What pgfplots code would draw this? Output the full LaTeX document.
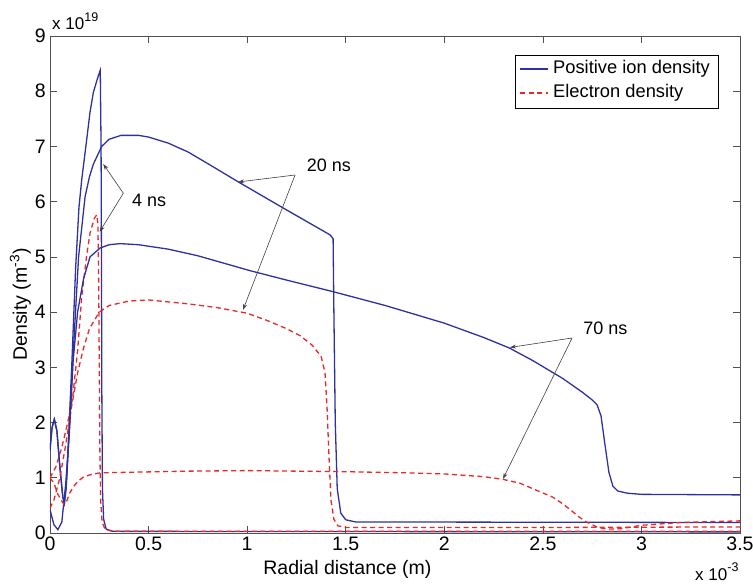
\documentclass[border=0pt]{standalone}
\usepackage{fontspec}
\setmainfont{Liberation Sans}
\usepackage{pgfplots}
\pgfplotsset{compat=1.18}
\usetikzlibrary{arrows.meta}
\definecolor{ionblue}{RGB}{45,50,160}
\definecolor{elred}{RGB}{230,40,40}
\definecolor{axgray}{RGB}{80,80,80}
\newcommand{\myTickFont}{\fontsize{19.5bp}{22bp}\selectfont}
\newcommand{\myLegFont}{\fontsize{18.3bp}{21bp}\selectfont}
\newcommand{\myAnnFont}{\fontsize{18bp}{21bp}\selectfont}
\begin{document}
\begin{tikzpicture}
\begin{axis}[at={(0,0)},anchor=south west,
 scale only axis, width=690bp, height=497bp,
 xmin=0,xmax=3.5,ymin=0,ymax=9,
 xtick={0,0.5,1,1.5,2,2.5,3,3.5}, ytick={0,1,2,3,4,5,6,7,8,9},
 xticklabels={0,0.5,1,1.5,2,2.5,3,3.5},
 tick align=inside, major tick length=7bp,
 axis line style={axgray, line width=0.6bp}, tick style={axgray, line width=0.6bp},
 /pgf/number format/assume math mode=true,
 tick label style={font=\myTickFont, text=black},
 xticklabel style={inner sep=4bp},
 yticklabel style={inner sep=4bp},
 xlabel={Radial distance (m)},
 ylabel={Density (m\textsuperscript{-3})},
 xlabel style={font=\myTickFont, at={(axis description cs:0.431,0)}, anchor=base, yshift=-41bp},
 ylabel style={font=\myTickFont, at={(axis description cs:-0.043,0.46)}, anchor=center},
 every axis plot/.append style={line width=1.3bp},
 clip=true,
]
% 4 ns ion
\addplot[color=ionblue] coordinates {(0,1.5) (0.01,1.9) (0.022,2.06) (0.035,1.85) (0.05,1.2) (0.065,0.65) (0.073,0.54) (0.082,0.8) (0.095,1.8) (0.11,3.0) (0.13,4.8) (0.147,5.9) (0.161,6.4) (0.186,7.12) (0.203,7.62) (0.22,7.98) (0.24,8.22) (0.255,8.38) (0.259,7.0) (0.261,5.0) (0.263,2.5) (0.266,0.8) (0.272,0.25) (0.285,0.07) (0.32,0.03) (3.5,0.02)};
% 4 ns electron
\addplot[color=elred, dash pattern=on 5bp off 3.5bp] coordinates {(0,1.0) (0.03,1.2) (0.06,1.55) (0.09,2.0) (0.115,2.45) (0.14,3.3) (0.161,4.28) (0.185,5.0) (0.203,5.43) (0.225,5.7) (0.237,5.76) (0.243,5.6) (0.247,4.5) (0.25,3.0) (0.253,1.5) (0.257,0.6) (0.264,0.2) (0.28,0.06) (0.32,0.03) (3.5,0.03)};
% 20 ns ion
\addplot[color=ionblue] coordinates {(0,1.5) (0.01,1.9) (0.022,2.06) (0.035,1.85) (0.05,1.2) (0.065,0.65) (0.073,0.54) (0.085,1.0) (0.1,2.0) (0.12,3.4) (0.145,5.0) (0.178,6.09) (0.2,6.45) (0.22,6.68) (0.262,7.0) (0.3,7.13) (0.36,7.2) (0.45,7.2) (0.5,7.17) (0.6,7.06) (0.7,6.9) (0.8,6.69) (0.954,6.36) (1.2,5.85) (1.42,5.4) (1.436,5.33) (1.44,4.0) (1.447,2.0) (1.457,0.8) (1.475,0.36) (1.5,0.24) (1.55,0.2) (3.5,0.19)};
% 20 ns electron
\addplot[color=elred, dash pattern=on 5bp off 3.5bp] coordinates {(0,0.45) (0.02,0.6) (0.05,1.0) (0.08,1.6) (0.11,2.3) (0.14,2.9) (0.17,3.35) (0.2,3.7) (0.25,4.0) (0.3,4.12) (0.4,4.2) (0.5,4.22) (0.7,4.15) (0.85,4.08) (1.0,3.98) (1.1,3.85) (1.2,3.7) (1.27,3.57) (1.33,3.4) (1.375,3.2) (1.395,2.9) (1.405,2.3) (1.415,1.4) (1.425,0.6) (1.44,0.25) (1.46,0.13) (1.5,0.1) (2.5,0.1) (3.5,0.11)};
% 70 ns ion
\addplot[color=ionblue] coordinates {(0,0.42) (0.02,0.15) (0.04,0.06) (0.06,0.2) (0.08,0.9) (0.098,1.8) (0.117,3.1) (0.14,4.0) (0.17,4.6) (0.203,5.0) (0.254,5.16) (0.3,5.22) (0.355,5.24) (0.45,5.22) (0.6,5.14) (0.75,5.02) (1.015,4.75) (1.2,4.58) (1.436,4.37) (1.7,4.12) (2.0,3.8) (2.2,3.54) (2.33,3.35) (2.45,3.12) (2.6,2.8) (2.7,2.55) (2.75,2.41) (2.775,2.32) (2.795,2.12) (2.815,1.6) (2.835,1.1) (2.855,0.85) (2.88,0.76) (2.93,0.72) (3.0,0.70) (3.5,0.69)};
% 70 ns electron
\addplot[color=elred, dash pattern=on 5bp off 3.5bp] coordinates {(0,1.0) (0.02,0.9) (0.04,0.7) (0.07,0.52) (0.085,0.58) (0.1,0.72) (0.117,0.83) (0.14,0.93) (0.168,1.01) (0.2,1.05) (0.254,1.09) (0.4,1.1) (0.7,1.12) (1.0,1.13) (1.5,1.11) (1.8,1.09) (2.0,1.07) (2.2,1.02) (2.3,0.97) (2.385,0.9) (2.49,0.74) (2.55,0.65) (2.6,0.53) (2.64,0.42) (2.68,0.3) (2.72,0.2) (2.78,0.1) (2.83,0.07) (2.9,0.08) (3.0,0.14) (3.2,0.19) (3.5,0.22)};
% annotations
\draw[black!75, line width=0.6bp, -{Stealth[length=6bp,width=4bp]}] (axis cs:0.372,6.152) -- (axis cs:0.270,6.682);
\draw[black!75, line width=0.6bp, -{Stealth[length=6bp,width=4bp]}] (axis cs:0.372,6.152) -- (axis cs:0.252,5.456);
\node[anchor=west, font=\myAnnFont, inner sep=0pt] at (axis cs:0.416,6.03) {4 ns};
\draw[black!75, line width=0.6bp, -{Stealth[length=6bp,width=4bp]}] (axis cs:1.243,6.483) -- (axis cs:0.954,6.356);
\draw[black!75, line width=0.6bp, -{Stealth[length=6bp,width=4bp]}] (axis cs:1.243,6.483) -- (axis cs:0.979,4.04);
\node[anchor=west, font=\myAnnFont, inner sep=0pt] at (axis cs:1.302,6.664) {20 ns};
\draw[black!75, line width=0.6bp, -{Stealth[length=6bp,width=4bp]}] (axis cs:2.648,3.531) -- (axis cs:2.333,3.36);
\draw[black!75, line width=0.6bp, -{Stealth[length=6bp,width=4bp]}] (axis cs:2.648,3.531) -- (axis cs:2.298,0.98);
\node[anchor=west, font=\myAnnFont, inner sep=0pt] at (axis cs:2.704,3.712) {70 ns};
% legend
\draw[black, line width=0.6bp, fill=white] (axis description cs:0.6739,0.8551) rectangle (axis description cs:0.9681,0.9618);
\draw[ionblue, line width=1.3bp] (axis description cs:0.6812,0.9336) -- (axis description cs:0.7217,0.9336);
\draw[elred, line width=1.3bp, dash pattern=on 5bp off 3.5bp] (axis description cs:0.6812,0.8853) -- (axis description cs:0.7217,0.8853);
\node[anchor=west, font=\myLegFont, inner sep=0pt] at (axis description cs:0.729,0.9336) {Positive ion density};
\node[anchor=west, font=\myLegFont, inner sep=0pt] at (axis description cs:0.729,0.8853) {Electron density};
\end{axis}
\node[anchor=base west, font=\fontsize{17bp}{20bp}\selectfont, inner sep=0pt] at (2bp,503bp) {x 10\raisebox{1.0ex}{\fontsize{12.5bp}{13bp}\selectfont 19}};
\node[anchor=base west, font=\fontsize{17bp}{20bp}\selectfont, inner sep=0pt] at (645bp,-47bp) {x 10\raisebox{1.0ex}{\fontsize{12.5bp}{13bp}\selectfont -3}};
\pgfresetboundingbox
\path (-50bp,-51bp) rectangle (703bp,533bp);
\end{tikzpicture}
\end{document}
